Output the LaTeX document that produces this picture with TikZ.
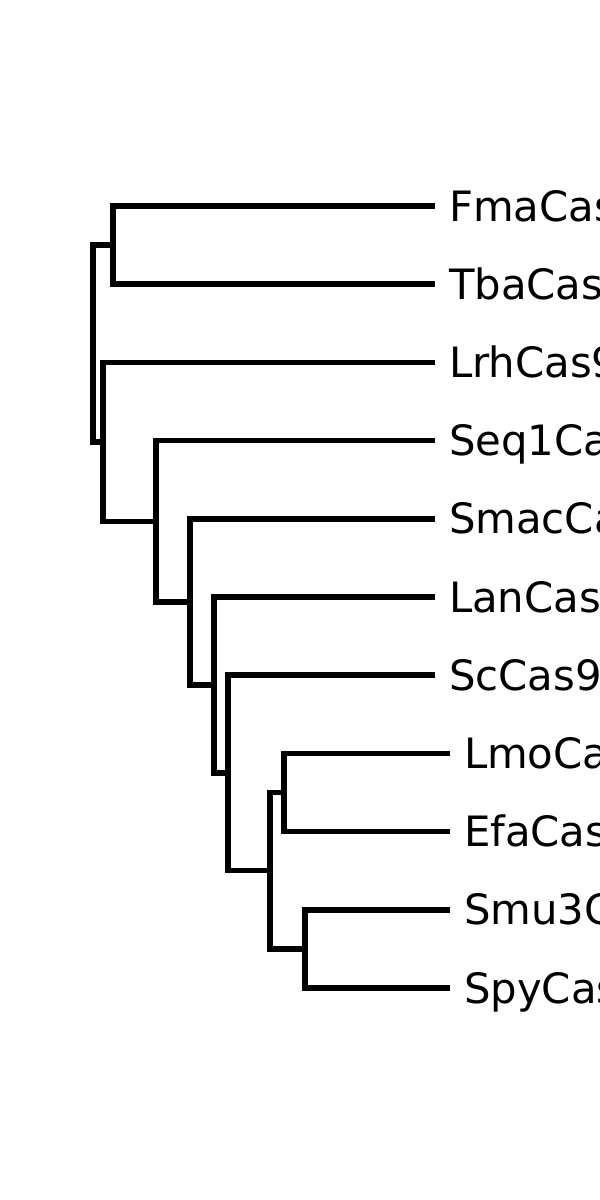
\documentclass[tikz,border=0pt]{standalone}
\usepackage{fontspec}
\setmainfont{DejaVu Sans}
\begin{document}
\begin{tikzpicture}[x=1pt,y=-1pt,
  branch/.style={line width=5.5pt,black,line join=miter},
  leaflabel/.style={anchor=base west,inner sep=0pt,outer sep=0pt,font=\fontsize{41.8}{50}\selectfont}]
\useasboundingbox (0,0) rectangle (600,1200);
\clip (0,0) rectangle (600,1200);
% leaf ends
\coordinate (Fma) at (435,206);
\coordinate (Tba) at (435,284.2);
\coordinate (Lrh) at (435,362.4);
\coordinate (Seq) at (435,440.6);
\coordinate (Smac) at (435,518.8);
\coordinate (Lan) at (435,597);
\coordinate (Sc) at (435,675.2);
\coordinate (Lmo) at (450,753.4);
\coordinate (Efa) at (450,831.6);
\coordinate (Smu) at (450,909.8);
\coordinate (Spy) at (450,988);
% labels
\node[leaflabel] (tFma) at (449,221) {FmaCas9};
\node[leaflabel] (tTba) at (449,299.2) {TbaCas9};
\node[leaflabel] (tLrh) at (449,377.4) {LrhCas9};
\node[leaflabel] (tSeq) at (449,455.6) {Seq1Cas9};
\node[leaflabel] (tSmac) at (449,533.8) {SmacCas9};
\node[leaflabel] (tLan) at (449,612) {LanCas9};
\node[leaflabel] (tSc) at (449,690.2) {ScCas9};
\node[leaflabel] (tLmo) at (464,768.4) {LmoCas9};
\node[leaflabel] (tEfa) at (464,846.6) {EfaCas9};
\node[leaflabel] (tSmu) at (464,924.8) {Smu3Cas9};
\node[leaflabel] (tSpy) at (464,1003) {SpyCas9};
% internal nodes
\coordinate (n1) at (113,245.1);
\coordinate (n8) at (284,792.5);
\coordinate (n9) at (305,948.9);
\coordinate (n7) at (270,870.7);
\coordinate (n6) at (228,773);
\coordinate (n5) at (214,685);
\coordinate (n4) at (190,601.9);
\coordinate (n3) at (156,521.3);
\coordinate (n2) at (103,441.8);
\coordinate (root) at (93,343.5);
% branches
\draw[branch] (Fma) -| (n1) |- (Tba);
\draw[branch] (n1) -| (root) |- (n2);
\draw[branch] (Lrh) -| (n2) |- (n3);
\draw[branch] (Seq) -| (n3) |- (n4);
\draw[branch] (Smac) -| (n4) |- (n5);
\draw[branch] (Lan) -| (n5) |- (n6);
\draw[branch] (Sc) -| (n6) |- (n7);
\draw[branch] (n8) -| (n7) |- (n9);
\draw[branch] (Lmo) -| (n8) |- (Efa);
\draw[branch] (Smu) -| (n9) |- (Spy);
\end{tikzpicture}
\end{document}
